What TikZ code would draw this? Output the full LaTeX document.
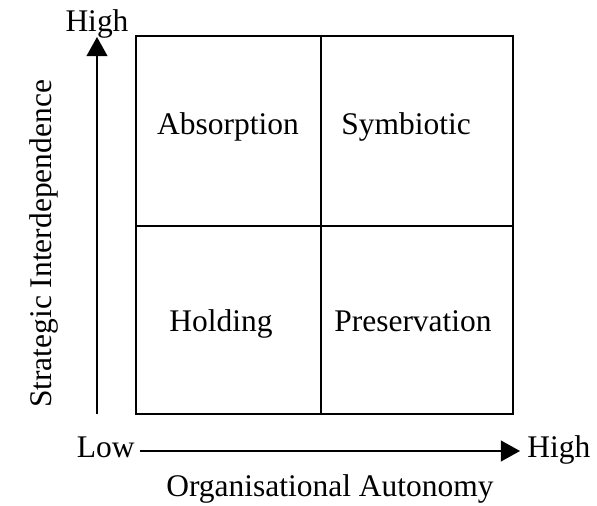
\documentclass[tikz,border=0pt]{standalone}
\usepackage{fontspec}
\setmainfont{Liberation Serif}
\usetikzlibrary{arrows.meta}

\tikzset{
    axis/.style={line width=1.4pt, -{Triangle[length=0.48cm,width=0.52cm]}},
    grid/.style={line width=1.4pt}
}

\begin{document}
\begin{tikzpicture}[every node/.style={inner sep=0pt, font=\fontsize{22.4}{27}\selectfont}]

        \useasboundingbox (0,0) rectangle (14.925,12.65);

        % the four quadrants
        \draw [grid] (3.4,2.3) rectangle (12.825,11.75);
        \draw [grid] (8.025,2.3) -- (8.025,11.75);
        \draw [grid] (3.4,7.0) -- (12.825,7.0);

        \node [anchor=base] (absorption) at (5.7,9.275) {Absorption};
        \node [anchor=base] (symbiotic) at (10.15,9.275) {Symbiotic};
        \node [anchor=base] (holding) at (5.525,4.35) {Holding};
        \node [anchor=base] (preservation) at (10.325,4.35) {Preservation};

        % vertical axis
        \coordinate (ybot) at (2.425,2.3);
        \coordinate (ytip) at (2.425,11.725);
        \draw [axis] (ybot) -- (ytip);
        \node [anchor=base] (yhigh) at (2.425,11.85) {High};
        \node [rotate=90, anchor=base] (ylabel) at (1.275,6.55) {Strategic Interdependence};

        % horizontal axis
        \node [anchor=base east] (xlow) at (3.375,1.2) {Low};
        \node [anchor=base west] (xhigh) at (13.175,1.2) {High};
        \coordinate (xstart) at (3.5,1.375);
        \coordinate (xtip) at (13.0,1.375);
        \draw [axis] (xstart) -- (xtip);
        \node [anchor=base] (xlabel) at (8.25,0.225) {Organisational Autonomy};

\end{tikzpicture}
\end{document}
